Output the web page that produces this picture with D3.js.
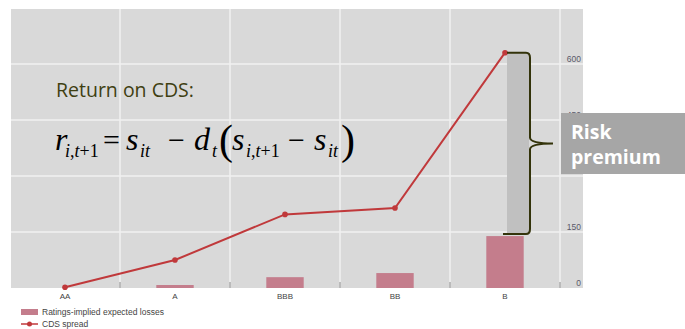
<!DOCTYPE html>
<html>
<head>
<meta charset="utf-8">
<script src="https://cdnjs.cloudflare.com/ajax/libs/d3/7.8.5/d3.min.js"></script>
<style>
  html, body { margin: 0; padding: 0; background: #fff; }
  svg { display: block; }
</style>
</head>
<body>
<svg id="chart" width="685" height="329"></svg>
<script>
// Rating categories and the two series (basis points)
const categories = ["AA", "A", "BBB", "BB", "B"];
const expectedLosses = [0, 8, 29, 40, 139];   // ratings-implied expected losses (bars)
const cdsSpread = [2, 75, 197, 214, 630];      // CDS spread (line)
const yTicks = [0, 150, 300, 450, 600];
const legendLabels = ["Ratings-implied expected losses", "CDS spread"];

const svg = d3.select("#chart");

const plot = { left: 11, right: 583, top: 9, bottom: 288, axisX: 560 };

const x = d3.scaleBand().domain(categories).range([10, plot.axisX]).paddingInner(0).paddingOuter(0);
const y = d3.scaleLinear().domain([0, 747]).range([plot.bottom, plot.top]);

const barColor = "#c47d8c";
const lineColor = "#c0393b";

// Plot background
svg.append("rect")
  .attr("x", plot.left).attr("y", plot.top)
  .attr("width", plot.right - plot.left).attr("height", plot.bottom - plot.top)
  .attr("fill", "#d9d9d9");

// Horizontal gridlines
svg.append("g").selectAll("line").data(yTicks.filter(d => d > 0)).join("line")
  .attr("x1", plot.left).attr("x2", plot.right)
  .attr("y1", d => y(d)).attr("y2", d => y(d))
  .attr("stroke", "#f0f0f0").attr("stroke-width", 1.5);

// Vertical gridlines at the band boundaries
const boundaries = categories.map(c => x(c) + x.bandwidth());
svg.append("g").selectAll("line").data(boundaries).join("line")
  .attr("x1", d => d).attr("x2", d => d)
  .attr("y1", plot.top).attr("y2", plot.bottom)
  .attr("stroke", "#f0f0f0").attr("stroke-width", 1.5);

// Small category separator ticks at the base
svg.append("g").selectAll("line").data(boundaries).join("line")
  .attr("x1", d => d).attr("x2", d => d)
  .attr("y1", plot.bottom - 6).attr("y2", plot.bottom)
  .attr("stroke", "#8a8a8a").attr("stroke-width", 1);

// Bars: expected losses
const barW = x.bandwidth() * 0.34;
svg.append("g").selectAll("rect").data(categories).join("rect")
  .attr("x", (c) => x(c) + x.bandwidth() / 2 - barW / 2)
  .attr("y", (c, i) => y(expectedLosses[i]))
  .attr("width", barW)
  .attr("height", (c, i) => y(0) - y(expectedLosses[i]))
  .attr("fill", barColor);

// Right-hand value axis
const yAxis = d3.axisRight(y).tickValues(yTicks).tickSize(0).tickPadding(0);
const gy = svg.append("g").attr("transform", `translate(${plot.right - 2},0)`).call(yAxis);
gy.select(".domain").remove();
gy.selectAll("text")
  .attr("text-anchor", "end")
  .attr("dy", "-0.25em")
  .attr("font-family", "Liberation Sans, Arial, sans-serif")
  .attr("font-size", 8.5)
  .attr("fill", "#5a5a6a");

// Category axis labels
const xAxis = d3.axisBottom(x).tickSize(0).tickPadding(5);
const gx = svg.append("g").attr("transform", `translate(0,${plot.bottom})`).call(xAxis);
gx.select(".domain").remove();
gx.selectAll("text")
  .attr("font-family", "Liberation Sans, Arial, sans-serif")
  .attr("font-size", 8)
  .attr("fill", "#444");

// Risk premium span on the B rating: from the expected loss up to the spread
const bIdx = categories.length - 1;
const bCx = x(categories[bIdx]) + x.bandwidth() / 2;
const topY = y(cdsSpread[bIdx]);
const botY = y(expectedLosses[bIdx]) - 2;
svg.append("rect")
  .attr("x", bCx + 2).attr("y", topY)
  .attr("width", 22).attr("height", botY - topY)
  .attr("fill", "#c0c0c0");

// CDS spread line with markers
const line = d3.line()
  .x((d, i) => x(categories[i]) + x.bandwidth() / 2)
  .y(d => y(d));
svg.append("path").datum(cdsSpread)
  .attr("d", line)
  .attr("fill", "none")
  .attr("stroke", lineColor)
  .attr("stroke-width", 2);
svg.append("g").selectAll("circle").data(cdsSpread).join("circle")
  .attr("cx", (d, i) => x(categories[i]) + x.bandwidth() / 2)
  .attr("cy", d => y(d))
  .attr("r", 2.8)
  .attr("fill", lineColor);

// Curly brace marking the premium
const bx0 = bCx + 2, bx1 = bCx + 25, tipX = bCx + 48;
const midY = (topY + botY) / 2;
const bracePath = [
  `M${bx0},${topY}`,
  `L${bx1 - 4},${topY}`,
  `Q${bx1},${topY} ${bx1},${topY + 5}`,
  `L${bx1},${midY - 6}`,
  `Q${bx1},${midY} ${tipX},${midY}`,
  `Q${bx1},${midY} ${bx1},${midY + 6}`,
  `L${bx1},${botY - 5}`,
  `Q${bx1},${botY} ${bx1 - 4},${botY}`,
  `L${bx0 - 4},${botY}`
].join(" ");
svg.append("path")
  .attr("d", bracePath)
  .attr("fill", "none")
  .attr("stroke", "#33330a")
  .attr("stroke-width", 2);

// Risk premium callout
svg.append("rect")
  .attr("x", 561).attr("y", 113)
  .attr("width", 124).attr("height", 61)
  .attr("fill", "#a6a6a6");
const callout = svg.append("text")
  .attr("font-family", "Open Sans, Noto Sans, sans-serif")
  .attr("font-weight", "bold")
  .attr("font-size", 19.5)
  .attr("fill", "#fff");
callout.append("tspan").attr("x", 571).attr("y", 139).text("Risk");
callout.append("tspan").attr("x", 571).attr("y", 164).text("premium");

// Formula annotation
svg.append("text")
  .attr("x", 56).attr("y", 97)
  .attr("font-family", "Open Sans, Noto Sans, sans-serif")
  .attr("font-size", 19.5)
  .attr("fill", "#3f3f12")
  .text("Return on CDS:");

const fm = svg.append("g")
  .attr("font-family", "Liberation Serif, Times New Roman, serif")
  .attr("fill", "#000");
const base = 150, subBase = 157, big = 32, sub = 18;
function piece(t, px, py, size, italic) {
  fm.append("text").attr("x", px).attr("y", py)
    .attr("font-size", size)
    .attr("font-style", italic ? "italic" : "normal")
    .text(t);
}
function subscript(parts, px) {
  const tx = fm.append("text").attr("x", px).attr("y", subBase).attr("font-size", sub);
  parts.forEach(([s, it]) => tx.append("tspan").attr("font-style", it ? "italic" : "normal").text(s));
}
piece("r", 55, base, big, true);
subscript([["i", true], [",", false], ["t", true], ["+1", false]], 65);
piece("=", 103, base, 30, false);
piece("s", 126, base, big, true);
subscript([["it", true]], 140);
piece("\u2212", 168, base, 30, false);
piece("d", 194, base, big, true);
subscript([["t", true]], 212);
piece("(", 219, 154, 42, false);
piece("s", 232, base, big, true);
subscript([["i", true], [",", false], ["t", true], ["+1", false]], 246);
piece("\u2212", 288, base, 30, false);
piece("s", 314, base, big, true);
subscript([["it", true]], 328);
piece(")", 341, 154, 42, false);

// Legend
const lg = svg.append("g")
  .attr("font-family", "Liberation Sans, Arial, sans-serif")
  .attr("font-size", 8.5)
  .attr("fill", "#444");
lg.append("rect").attr("x", 21).attr("y", 309).attr("width", 17).attr("height", 6).attr("fill", barColor);
lg.append("text").attr("x", 42).attr("y", 315).text(legendLabels[0]);
lg.append("line").attr("x1", 21).attr("x2", 38).attr("y1", 324).attr("y2", 324)
  .attr("stroke", lineColor).attr("stroke-width", 1.5);
lg.append("circle").attr("cx", 29.5).attr("cy", 324).attr("r", 2.5).attr("fill", lineColor);
lg.append("text").attr("x", 42).attr("y", 327).text(legendLabels[1]);
</script>
</body>
</html>
